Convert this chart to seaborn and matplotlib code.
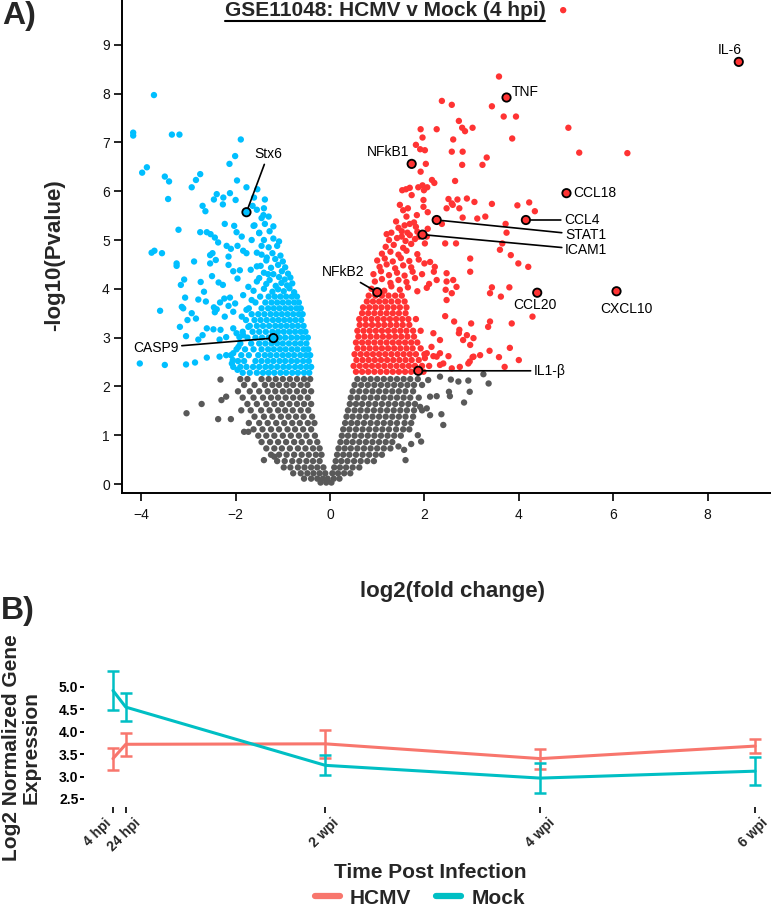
import numpy as np
import pandas as pd
import matplotlib
matplotlib.use("Agg")
import matplotlib.pyplot as plt
import seaborn as sns
from matplotlib.lines import Line2D

# ---------------- Panel A data (volcano) ----------------
# dense cores, typed as rows: (-log10 p, [log2 fold changes])
blue_core_rows = [
    (2.28, [-1.85, -1.70, -1.55, -1.42, -1.30, -1.18, -1.05, -0.93, -0.80, -0.68, -0.55, -0.44]),
    (2.40, [-2.05, -1.90, -1.77, -1.63, -1.50, -1.37, -1.25, -1.12, -0.99, -0.87, -0.74, -0.62, -0.50, -0.40]),
    (2.52, [-1.95, -1.82, -1.58, -1.45, -1.32, -1.20, -1.07, -0.95, -0.82, -0.70, -0.57, -0.45]),
    (2.64, [-2.10, -1.88, -1.72, -1.52, -1.38, -1.26, -1.13, -1.00, -0.88, -0.76, -0.63, -0.51, -0.42]),
    (2.76, [-1.98, -1.80, -1.62, -1.45, -1.31, -1.19, -1.06, -0.94, -0.81, -0.69, -0.56, -0.46]),
    (2.88, [-1.90, -1.67, -1.50, -1.37, -1.24, -1.12, -1.00, -0.87, -0.74, -0.62, -0.50]),
    (3.00, [-1.75, -1.58, -1.44, -1.30, -1.07, -0.95, -0.82, -0.70, -0.58, -0.47]),
    (3.12, [-1.85, -1.64, -1.50, -1.36, -1.22, -1.10, -0.98, -0.86, -0.74, -0.62, -0.52]),
    (3.24, [-1.70, -1.55, -1.42, -1.29, -1.16, -1.04, -0.92, -0.80, -0.68, -0.56]),
    (3.36, [-1.78, -1.60, -1.47, -1.34, -1.21, -1.09, -0.97, -0.85, -0.73, -0.61]),
    (3.48, [-1.66, -1.52, -1.39, -1.26, -1.14, -1.02, -0.90, -0.78, -0.66, -0.58]),
    (3.60, [-1.72, -1.45, -1.31, -1.19, -1.07, -0.95, -0.83, -0.71, -0.62]),
    (3.72, [-1.58, -1.37, -1.24, -1.12, -1.00, -0.88, -0.76, -0.66]),
    (3.84, [-1.48, -1.30, -1.17, -1.05, -0.93, -0.81, -0.70]),
]
blue_x = [-1.62, -1.40, -1.22, -1.10, -0.98, -0.86, -0.76, -1.35, -1.15, -1.03, -0.91, -0.80,
          -1.50, -1.28, -1.08, -0.96, -0.84, -1.40, -1.20, -1.02, -0.89, -1.55, -1.25, -1.10, -0.95,
          -1.35, -1.16, -1.00, -1.45, -1.22, -1.05, -1.30, -1.12, -1.40, -1.20, -1.08, -1.50, -1.28,
          -1.60, -1.38, -1.20, -1.45, -1.30, -1.55, -1.40,
          -1.64, -1.41, -1.62, -1.50, -1.66, -1.45, -1.55, -1.34, -1.47, -1.68, -1.31, -1.55, -1.73,
          -1.84, -1.66, -1.77, -1.87, -1.73, -1.84, -1.94, -2.05, -2.08, -1.96,
          -4.17, -4.17, -3.35, -3.19, -1.89, -2.01, -2.13, -3.88, -3.98, -3.50, -3.41, -2.75, -2.84,
          -2.93, -1.97, -3.43, -2.40, -2.26, -2.46, -2.12, -2.00, -2.27, -1.77, -1.54, -1.61, -1.38,
          -2.70, -2.64, -2.23, -2.03, -1.98, -1.87, -3.21, -2.75, -2.61, -2.53, -2.44, -2.37, -2.19,
          -2.10, -1.96, -1.84, -1.77, -3.78, -3.72, -3.56, -3.25, -3.25, -2.54, -2.49, -2.42, -2.54,
          -2.15, -2.15, -2.88, -2.05, -1.91, -1.96, -3.09, -3.16, -2.74, -2.50, -2.36, -2.27, -3.07,
          -3.14, -3.11, -3.60, -2.79, -2.67, -2.63, -2.46, -2.40, -2.44, -2.33, -2.24, -2.15, -2.12,
          -2.05, -2.01, -2.93, -2.84, -3.02, -3.18, -3.05, -2.79, -2.70, -2.61, -2.47, -2.32, -2.23,
          -2.34, -2.20, -2.05, -1.98, -1.92, -2.61, -2.34, -2.20, -2.06, -4.03, -3.50, -3.05, -2.86,
          -3.73]
blue_y = [3.96, 4.00, 3.94, 3.99, 3.95, 4.01, 3.93, 4.10, 4.06, 4.12, 4.07, 4.11,
          4.22, 4.18, 4.24, 4.19, 4.23, 4.33, 4.30, 4.36, 4.31, 4.46, 4.43, 4.49, 4.44,
          4.58, 4.61, 4.56, 4.70, 4.73, 4.68, 4.85, 4.88, 5.00, 5.03, 4.97, 5.15, 5.18,
          5.30, 5.33, 5.28, 5.45, 5.48, 5.62, 5.65,
          5.70, 5.51, 5.29, 5.14, 5.00, 4.88, 4.74, 4.64, 4.47, 4.39, 4.30, 4.15, 4.04,
          3.87, 3.77, 3.57, 3.43, 3.22, 3.05, 2.81, 2.68, 2.47, 2.34,
          7.20, 7.14, 7.16, 7.16, 7.06, 6.72, 6.56, 6.49, 6.38, 6.30, 6.20, 6.35, 6.23,
          6.08, 6.22, 5.84, 5.94, 5.87, 5.83, 5.96, 5.82, 5.73, 6.08, 6.04, 5.87, 5.83,
          5.70, 5.59, 5.33, 5.29, 5.16, 5.07, 5.21, 5.16, 5.16, 5.12, 5.05, 4.95, 4.88,
          4.82, 4.88, 4.78, 4.73, 4.74, 4.78, 4.73, 4.52, 4.47, 4.69, 4.73, 4.59, 4.52,
          4.66, 4.49, 4.56, 4.36, 4.38, 4.21, 4.19, 4.08, 4.14, 4.26, 4.13, 4.08, 3.82,
          3.63, 3.60, 3.55, 3.78, 3.94, 3.74, 3.62, 3.58, 3.52, 3.72, 3.80, 3.65, 3.82,
          3.53, 3.70, 3.50, 3.39, 3.36, 3.22, 3.03, 2.96, 3.05, 3.19, 3.17, 3.16, 3.43,
          2.96, 3.01, 3.19, 3.09, 3.01, 2.59, 2.61, 2.64, 2.54, 2.47, 2.44, 2.45, 2.49,
          7.97]

red_core_rows = [
    (2.30, [0.55, 0.68, 0.81, 0.94, 1.07, 1.20, 1.33, 1.46, 1.59, 1.72, 1.98]),
    (2.42, [0.50, 0.63, 0.76, 0.89, 1.02, 1.15, 1.28, 1.41, 1.54, 1.67, 1.80, 1.95, 2.10]),
    (2.54, [0.56, 0.69, 0.82, 0.95, 1.08, 1.21, 1.34, 1.47, 1.60, 1.73, 1.88]),
    (2.66, [0.52, 0.65, 0.78, 0.91, 1.04, 1.17, 1.30, 1.43, 1.56, 1.69, 1.82, 2.00]),
    (2.78, [0.58, 0.71, 0.84, 0.97, 1.10, 1.23, 1.36, 1.49, 1.62, 1.75, 1.92]),
    (2.90, [0.55, 0.68, 0.81, 0.94, 1.07, 1.20, 1.33, 1.46, 1.59, 1.72, 1.85]),
    (3.02, [0.60, 0.73, 0.86, 0.99, 1.12, 1.25, 1.38, 1.51, 1.64, 1.78]),
    (3.14, [0.58, 0.71, 0.84, 0.97, 1.10, 1.23, 1.36, 1.49, 1.62, 1.76, 1.92]),
    (3.26, [0.63, 0.76, 0.89, 1.02, 1.15, 1.28, 1.41, 1.54, 1.68]),
    (3.38, [0.62, 0.75, 0.88, 1.01, 1.14, 1.27, 1.40, 1.53, 1.66, 1.82]),
    (3.50, [0.68, 0.81, 0.94, 1.07, 1.20, 1.33, 1.46, 1.60]),
    (3.62, [0.70, 0.83, 0.96, 1.09, 1.22, 1.35, 1.48, 1.62]),
    (3.74, [0.78, 0.91, 1.04, 1.17, 1.30, 1.44, 1.58]),
    (3.86, [0.82, 0.96, 1.10, 1.24, 1.38, 1.52]),
]
red_x = [0.88, 1.15, 1.30, 1.48, 1.65, 1.85, 2.05, 0.95, 1.10, 1.28, 1.45, 1.62, 1.80, 2.10,
         0.92, 1.08, 1.25, 1.42, 1.58, 1.75, 1.95, 1.05, 1.20, 1.38, 1.55, 1.72, 2.00,
         1.00, 1.16, 1.33, 1.50, 1.68, 1.88, 2.12, 1.10, 1.28, 1.45, 1.62, 1.85,
         1.18, 1.35, 1.55, 1.72, 1.25, 1.42, 1.60, 1.80, 1.30, 1.45, 1.40, 1.58, 1.78,
         4.94, 3.58, 3.43, 2.37, 2.58, 3.68, 3.94, 5.05, 5.28, 6.30, 3.86, 2.73, 2.80, 2.86, 3.02,
         2.26, 2.61, 1.92, 1.96, 1.82, 1.91, 2.01, 2.58, 2.81, 3.32, 3.23, 2.80, 2.03, 1.92, 2.16,
         2.21, 2.65, 1.53, 1.61, 1.69, 1.87, 1.96, 1.99, 2.06, 1.48, 1.55, 1.65, 1.73, 1.98, 1.98,
         2.51, 2.58, 2.70, 2.74, 2.90, 3.06, 2.47, 2.60, 3.43, 3.97, 4.22, 4.34, 2.07, 1.84, 1.62,
         1.69, 2.81, 3.12, 3.29, 2.37, 3.72, 3.74, 1.52, 1.64, 1.69, 1.52, 1.82, 1.85, 1.89, 2.07,
         2.05, 2.01, 1.20, 2.44, 2.67, 3.60, 3.65, 3.83, 3.99, 4.20, 2.97, 2.97, 3.43, 3.39, 3.62,
         3.80, 4.29, 3.85, 3.39, 3.35, 2.99, 3.38, 3.58, 3.70, 3.81, 4.00, 3.04, 2.93, 3.18, 2.58,
         2.22, 2.20, 2.26, 2.47, 2.47, 2.61, 2.68, 2.45, 2.58, 2.47, 2.44, 2.63, 2.74, 2.73, 2.90,
         2.82, 2.97, 3.04, 2.19, 2.33, 2.15, 2.05, 2.26, 2.40, 2.75, 2.01, 2.19, 2.33, 2.51, 2.33,
         3.02, 2.96]
red_y = [4.00, 3.96, 4.05, 3.98, 4.03, 3.95, 4.02, 4.15, 4.20, 4.12, 4.18, 4.14, 4.22, 4.10,
         4.30, 4.36, 4.28, 4.33, 4.27, 4.35, 4.30, 4.45, 4.50, 4.42, 4.48, 4.44, 4.52,
         4.58, 4.62, 4.56, 4.63, 4.57, 4.60, 4.55, 4.72, 4.76, 4.70, 4.78, 4.71,
         4.86, 4.90, 4.84, 4.92, 5.00, 5.04, 4.98, 5.02, 5.15, 5.25, 5.38, 5.30, 5.36,
         9.71, 8.35, 7.74, 7.85, 7.77, 7.53, 7.53, 7.30, 6.79, 6.78, 7.08, 7.44, 7.30, 7.23, 7.30,
         7.27, 7.06, 7.27, 7.10, 6.95, 6.86, 6.84, 6.81, 6.81, 6.69, 6.54, 6.54, 6.56, 6.40, 6.23,
         6.17, 6.21, 6.02, 6.04, 6.07, 6.08, 6.12, 6.02, 6.08, 5.72, 5.61, 5.65, 5.92, 5.82, 5.68,
         5.84, 5.75, 5.83, 5.65, 5.85, 5.78, 5.65, 5.72, 5.74, 5.71, 5.77, 5.59, 5.57, 5.51, 5.48,
         5.33, 5.46, 5.44, 5.48, 5.33, 5.33, 5.15, 5.18, 5.15, 5.10, 5.07, 5.27, 5.17, 5.07, 5.23,
         5.07, 4.93, 5.12, 4.93, 4.93, 4.80, 4.93, 4.69, 4.52, 4.45, 4.62, 4.35, 4.03, 3.91, 3.84,
         4.03, 3.43, 3.29, 3.33, 3.22, 3.29, 2.73, 2.60, 2.40, 2.79, 2.54, 2.61, 2.47, 2.64, 2.37,
         4.45, 4.35, 4.18, 4.32, 4.15, 4.18, 4.04, 3.98, 3.91, 3.77, 3.44, 3.33, 3.16, 3.09, 3.05,
         2.95, 2.85, 2.99, 3.09, 2.95, 2.81, 2.68, 2.61, 2.47, 2.40, 2.58, 2.62, 2.68, 2.62, 2.44,
         2.60, 2.51]

grey_core_rows = [
    (2.15, [-1.90, -1.75, -1.45, -1.30, -1.15, -1.00, -0.85, -0.70, -0.55, -0.42,
            0.58, 0.72, 0.86, 1.00, 1.14, 1.28, 1.42, 1.56, 1.70, 1.86]),
    (2.03, [-1.82, -1.60, -1.38, -1.22, -1.08, -0.92, -0.78, -0.62, -0.48,
            0.52, 0.66, 0.80, 0.94, 1.08, 1.22, 1.36, 1.50, 1.64, 1.78, 1.95]),
    (1.90, [-1.95, -1.70, -1.50, -1.32, -1.16, -1.00, -0.86, -0.70, -0.55, -0.40,
            0.48, 0.62, 0.76, 0.90, 1.04, 1.18, 1.32, 1.46, 1.60, 1.76]),
    (1.77, [-1.85, -1.62, -1.42, -1.25, -1.10, -0.94, -0.78, -0.63, -0.47,
            0.44, 0.58, 0.72, 0.86, 1.00, 1.14, 1.28, 1.42, 1.56, 1.70, 1.88]),
    (1.64, [-1.75, -1.55, -1.35, -1.18, -1.02, -0.86, -0.70, -0.55, -0.40,
            0.42, 0.55, 0.68, 0.82, 0.96, 1.10, 1.24, 1.38, 1.52, 1.66, 1.80]),
    (1.51, [-1.88, -1.68, -1.46, -1.28, -1.10, -0.95, -0.79, -0.62, -0.46,
            0.38, 0.52, 0.65, 0.79, 0.93, 1.07, 1.21, 1.35, 1.49, 1.63, 1.78, 1.95]),
    (1.38, [-1.60, -1.40, -1.22, -1.04, -0.88, -0.72, -0.56, -0.38,
            0.35, 0.48, 0.62, 0.76, 0.90, 1.04, 1.18, 1.32, 1.46, 1.60, 1.76]),
    (1.25, [-1.72, -1.50, -1.32, -1.14, -0.97, -0.80, -0.64, -0.47, -0.33,
            0.32, 0.45, 0.58, 0.72, 0.86, 1.00, 1.14, 1.28, 1.42, 1.58, 1.72]),
    (1.12, [-1.62, -1.43, -1.25, -1.08, -0.90, -0.74, -0.57, -0.40,
            0.28, 0.41, 0.55, 0.69, 0.83, 0.97, 1.11, 1.25, 1.40, 1.55, 1.68]),
    (0.99, [-1.52, -1.35, -1.18, -1.00, -0.83, -0.66, -0.50, -0.32,
            0.25, 0.38, 0.52, 0.66, 0.80, 0.94, 1.08, 1.22, 1.36, 1.50]),
    (0.86, [-1.45, -1.27, -1.10, -0.93, -0.76, -0.60, -0.43, -0.27,
            0.22, 0.35, 0.48, 0.62, 0.76, 0.90, 1.04, 1.18, 1.32]),
    (0.73, [-1.35, -1.18, -1.02, -0.85, -0.68, -0.52, -0.36, -0.22,
            0.18, 0.31, 0.44, 0.58, 0.72, 0.86, 1.00, 1.14, 1.28]),
    (0.60, [-1.25, -1.08, -0.92, -0.76, -0.60, -0.45, -0.30, -0.18,
            0.15, 0.28, 0.41, 0.55, 0.69, 0.83, 0.97, 1.10]),
    (0.47, [-1.12, -0.96, -0.80, -0.65, -0.50, -0.36, -0.22,
            0.12, 0.24, 0.37, 0.51, 0.65, 0.79, 0.93]),
    (0.34, [-0.98, -0.84, -0.68, -0.54, -0.40, -0.27, -0.14, 0.09, 0.21, 0.34, 0.48, 0.62]),
    (0.22, [-0.78, -0.62, -0.48, -0.35, -0.22, -0.10, 0.05, 0.17, 0.30, 0.43]),
    (0.11, [-0.55, -0.40, -0.27, -0.15, -0.05, 0.08, 0.20]),
    (0.03, [-0.20, -0.08, 0.03]),
]
grey_x = [-2.32, -2.20, -2.30, -2.72, -3.04, -2.37, -2.10, -1.82, -1.73, -1.40, -1.18,
          2.08, 2.33, 2.56, 2.72, 2.93, 3.25, 3.36, 2.12, 2.26, 2.52, 2.54, 2.96, 2.84,
          1.91, 2.05, 2.12, 2.36, 2.40, 1.86, 1.93, 1.72, 1.60, 1.57, 1.45]
grey_y = [2.14, 1.79, 1.72, 1.64, 1.45, 1.33, 1.33, 1.07, 1.07, 0.49, 0.56,
          2.13, 2.20, 2.14, 2.10, 2.12, 2.25, 2.06, 1.79, 1.80, 1.89, 1.80, 1.89, 1.67,
          1.58, 1.55, 1.41, 1.43, 1.21, 1.00, 0.87, 0.82, 0.49, 0.70, 0.77]

gene_names = ["IL-6", "TNF", "NFkB1", "CCL18", "CCL4", "STAT1", "ICAM1", "CCL20",
              "CXCL10", "NFkB2", "IL1-\u03b2", "Stx6", "CASP9"]
gene_lfc = [8.66, 3.74, 1.73, 5.01, 4.15, 2.26, 1.96, 4.39, 6.07, 1.00, 1.87, -1.77, -1.20]
gene_nlp = [8.65, 7.92, 6.56, 5.96, 5.41, 5.41, 5.11, 3.92, 3.95, 3.93, 2.32, 5.57, 2.99]

# ---------------- Panel B data ----------------
time_labels = ["4 hpi", "24 hpi", "2 wpi", "4 wpi", "6 wpi"]
time_days = [4 / 24, 1, 14, 28, 42]
hcmv_mean = [3.40, 3.72, 3.73, 3.40, 3.68]
hcmv_err = [0.245, 0.26, 0.31, 0.225, 0.16]
mock_mean = [4.92, 4.55, 3.25, 2.965, 3.12]
mock_err = [0.44, 0.32, 0.22, 0.335, 0.32]


def flatten(rows):
    xs, ys = [], []
    for yv, xl in rows:
        xs += xl
        ys += [yv] * len(xl)
    return xs, ys


bx, by = flatten(blue_core_rows)
rx, ry = flatten(red_core_rows)
gx, gy = flatten(grey_core_rows)
df = pd.concat([
    pd.DataFrame({"lfc": gx + grey_x, "nlp": gy + grey_y, "grp": "ns"}),
    pd.DataFrame({"lfc": bx + blue_x, "nlp": by + blue_y, "grp": "down"}),
    pd.DataFrame({"lfc": rx + red_x, "nlp": ry + red_y, "grp": "up"}),
], ignore_index=True)
genes = pd.DataFrame({"gene": gene_names, "lfc": gene_lfc, "nlp": gene_nlp})
genes["grp"] = np.where(genes["lfc"] > 0, "up", "down")

COL = {"ns": "#595959", "down": "#00BFFF", "up": "#FF3333"}

sns.set_theme(style="white")
plt.rcParams["font.family"] = ["Liberation Sans", "DejaVu Sans"]

W, H = 771, 907
fig = plt.figure(figsize=(W / 100, H / 100), dpi=100)


def fx(px):
    return px / W


def fy(py):
    return 1 - py / H


# ---------------- Panel A ----------------
ax = fig.add_axes([fx(122), fy(493), fx(771) - fx(122), fy(0) - fy(493)])
sns.scatterplot(data=df, x="lfc", y="nlp", hue="grp", palette=COL, s=21,
                linewidth=0, legend=False, ax=ax, zorder=2)
sns.scatterplot(data=genes, x="lfc", y="nlp", hue="grp", palette=COL, s=36,
                edgecolor="black", linewidth=1.3, legend=False, ax=ax, zorder=5)
ax.set_xlim(-4.407, 9.343)
ax.set_ylim(-0.184, 9.918)
ax.set_xticks([-4, -2, 0, 2, 4, 6, 8])
ax.set_yticks(range(10))
ax.set_xlabel("")
ax.set_ylabel("")
for s in ["top", "right"]:
    ax.spines[s].set_visible(False)
for s in ["left", "bottom"]:
    ax.spines[s].set_color("black")
    ax.spines[s].set_linewidth(1.4)
ax.tick_params(axis="both", direction="out", length=5.8, width=1.2, color="black",
               labelsize=10, labelcolor="#111111", left=True, bottom=True)
ax.tick_params(axis="x", pad=5)
ax.tick_params(axis="y", pad=3)

label_layout = {
    "IL-6": (8.47, 8.89, "center", False),
    "TNF": (3.86, 8.04, "left", False),
    "NFkB1": (1.23, 6.80, "center", False),
    "CCL18": (5.15, 5.96, "left", False),
    "CCL4": (4.96, 5.41, "left", True),
    "STAT1": (4.98, 5.10, "left", True),
    "ICAM1": (4.98, 4.80, "left", True),
    "CCL20": (4.34, 3.67, "center", False),
    "CXCL10": (6.29, 3.59, "center", False),
    "NFkB2": (0.27, 4.34, "center", True),
    "IL1-\u03b2": (4.32, 2.32, "left", True),
    "Stx6": (-1.31, 6.76, "center", True),
    "CASP9": (-3.69, 2.79, "center", True),
}
for _, r in genes.iterrows():
    tx, ty, ha, line = label_layout[r["gene"]]
    kw = {}
    if line:
        kw["arrowprops"] = dict(arrowstyle="-", color="black", lw=1.2,
                                shrinkA=0, shrinkB=3.5)
    ax.annotate(r["gene"], xy=(r["lfc"], r["nlp"]), xytext=(tx, ty),
                textcoords="data", ha=ha, va="center", fontsize=10,
                color="black", zorder=6, **kw)

fig.text(fx(55), fy(255), "-log10(Pvalue)", rotation=90, ha="center", va="center",
         fontsize=16, fontweight="bold")
fig.text(fx(453), fy(591), "log2(fold change)", ha="center", va="center",
         fontsize=16, fontweight="bold")
title = fig.text(fx(385), fy(10), "GSE11048: HCMV v Mock (4 hpi)", ha="center",
                 va="center", fontsize=15, fontweight="bold")
fig.text(fx(2), fy(1), "A)", ha="left", va="top", fontsize=23, fontweight="bold")
fig.text(fx(1), fy(596), "B)", ha="left", va="top", fontsize=23, fontweight="bold")

# ---------------- Panel B ----------------
PAL2 = {"HCMV": "#F8766D", "Mock": "#00BFC4"}
df2 = pd.concat([
    pd.DataFrame({"day": time_days, "expr": hcmv_mean, "err": hcmv_err, "group": "HCMV"}),
    pd.DataFrame({"day": time_days, "expr": mock_mean, "err": mock_err, "group": "Mock"}),
], ignore_index=True)

ax2 = fig.add_axes([fx(84), fy(807), fx(771) - fx(84), fy(665) - fy(807)])
sns.lineplot(data=df2, x="day", y="expr", hue="group", palette=PAL2, lw=2.2,
             legend=False, ax=ax2, errorbar=None)
for g, sub in df2.groupby("group"):
    ax2.errorbar(sub["day"], sub["expr"], yerr=sub["err"], fmt="none",
                 ecolor=PAL2[g], elinewidth=1.8, capsize=4.3, capthick=1.8, zorder=3)
ax2.set_xlim(-1.72, 43.03)
ax2.set_ylim(2.32, 5.49)
for s in ax2.spines.values():
    s.set_visible(False)
ax2.set_xlabel("")
ax2.set_ylabel("")
ax2.set_yticks([2.5, 3.0, 3.5, 4.0, 4.5, 5.0])
ax2.set_yticklabels(["2.5", "3.0", "3.5", "4.0", "4.5", "5.0"], fontsize=10,
                    fontweight="bold")
ax2.set_xticks(time_days)
ax2.set_xticklabels([])
ax2.tick_params(axis="y", left=True, length=3, width=1.4, color="black", pad=1,
                labelcolor="black")
ax2.tick_params(axis="x", bottom=True, length=4.5, width=1.2, color="black", pad=1)
ax2.grid(False)
# rotated time labels, nudged like the original
label_dx = [-11, -1, -1, 0, -1]
for d, lab, dx in zip(time_days, time_labels, label_dx):
    ax2.annotate(lab, xy=(d, 0), xycoords=("data", "axes fraction"),
                 xytext=(dx, -6.5), textcoords="offset points", rotation=45,
                 ha="center", va="top", fontsize=10, fontweight="bold",
                 annotation_clip=False)

fig.text(fx(430), fy(873), "Time Post Infection", ha="center", va="center",
         fontsize=15, fontweight="bold")
fig.text(fx(21), fy(748), "Log2 Normalized Gene\nExpression", rotation=90,
         ha="center", va="center", fontsize=15, fontweight="bold", linespacing=1.05,
         multialignment="center")
handles = [Line2D([], [], color=PAL2["HCMV"], lw=4.5),
           Line2D([], [], color=PAL2["Mock"], lw=4.5)]
fig.legend(handles, ["HCMV", "Mock"], loc="center", bbox_to_anchor=(fx(420), fy(898)),
           ncol=2, frameon=False, prop=dict(weight="bold", size=15),
           handlelength=1.2, handletextpad=0.5, columnspacing=1.2, borderpad=0)

# underline for the title
fig.canvas.draw()
bb = title.get_window_extent()
fw, fh = fig.bbox.width, fig.bbox.height
fig.add_artist(Line2D([bb.x0 / fw, bb.x1 / fw], [(bb.y0 - 1) / fh, (bb.y0 - 1) / fh],
                      transform=fig.transFigure, color="black", lw=1.5))

fig.savefig("out.png", dpi=100)
